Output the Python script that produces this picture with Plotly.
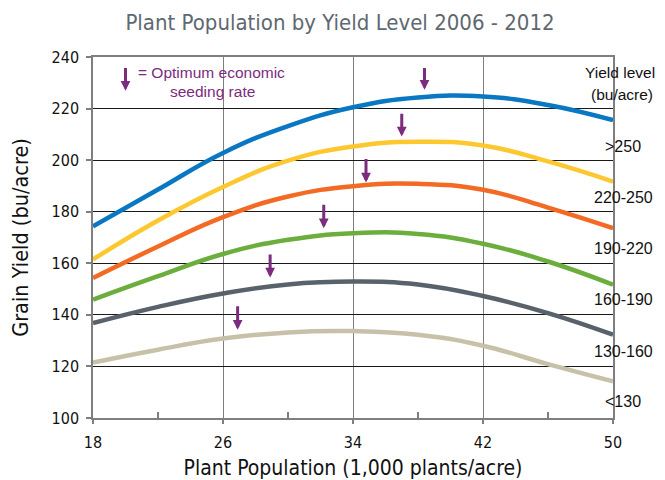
import plotly.graph_objects as go

# ---- data ----
population = [18, 22, 26, 30, 34, 38, 42, 46, 50]
yield_levels = [">250", "220-250", "190-220", "160-190", "130-160", "<130"]
yield_gt250 = [174.3, 188.6, 202.8, 213.2, 220.5, 224.3, 224.7, 221.4, 215.5]
yield_220_250 = [161.5, 176.6, 189.6, 199.8, 205.3, 207.1, 205.7, 199.5, 191.7]
yield_190_220 = [154.3, 166.5, 177.9, 185.9, 189.9, 190.8, 188.5, 181.6, 173.6]
yield_160_190 = [145.9, 155.0, 163.6, 169.1, 171.6, 171.4, 167.6, 160.7, 151.7]
yield_130_160 = [136.8, 143.1, 148.3, 151.8, 152.9, 151.8, 147.3, 140.7, 132.3]
yield_lt130 = [121.5, 126.5, 130.8, 133.2, 133.7, 132.3, 128.0, 120.9, 114.2]
series = [yield_gt250, yield_220_250, yield_190_220, yield_160_190, yield_130_160, yield_lt130]

# optimum economic seeding rate arrows (x, arrow top, arrow tip)
opt_x = [38.4, 37.0, 34.8, 32.2, 28.9, 26.9]
opt_top = [236.3, 218.6, 201.0, 183.3, 164.0, 143.9]
opt_tip = [227.3, 209.2, 191.3, 173.6, 154.5, 134.2]
key_x, key_top, key_tip = 20.0, 236.3, 226.9

x_ticks = [18, 26, 34, 42, 50]
x_minor = [22, 30, 38, 46]
y_ticks = [100, 120, 140, 160, 180, 200, 220, 240]
label_y = [147, 198, 249, 300, 352, 402]  # page pixel rows for right-hand labels

colors = ["#0A77C2", "#FDC82F", "#F26A24", "#6CAE3E", "#59626B", "#C8C1A9"]
purple = "#7C2C7E"

fig = go.Figure()
for vals, name, c in zip(series, yield_levels, colors):
    fig.add_trace(go.Scatter(x=population, y=vals, mode="lines", name=name,
                             line=dict(color=c, width=4.5, shape="spline", smoothing=1.3),
                             showlegend=False, hoverinfo="skip"))

# page geometry (the page body has an 8px margin)
OFF = 8
W, H = 665 - OFF, 480 - OFF
plot_left, plot_right, plot_top, plot_bottom = 93, 613, 57, 418.3  # page pixels
L = plot_left - OFF
T = plot_top - OFF
R = W - (plot_right - OFF)
B = H - (plot_bottom - OFF)
pw, ph = plot_right - plot_left, plot_bottom - plot_top


def px(xp):
    return (xp - plot_left) / pw


def py(yp):
    return (plot_bottom - yp) / ph


ann = []
for xv, yt, yb in zip(opt_x, opt_top, opt_tip):
    ann.append(dict(x=xv, y=yb, ax=xv, ay=yt, xref="x", yref="y", axref="x", ayref="y",
                    showarrow=True, arrowhead=2, arrowsize=0.65, arrowwidth=3,
                    arrowcolor=purple, text=""))
ann.append(dict(x=key_x, y=key_tip, ax=key_x, ay=key_top, xref="x", yref="y", axref="x", ayref="y",
                showarrow=True, arrowhead=2, arrowsize=0.65, arrowwidth=3,
                arrowcolor=purple, text=""))

tf = dict(family="Liberation Sans, Arial, sans-serif", size=15.5, color=purple)
ann.append(dict(x=px(136), y=py(73), xref="paper", yref="paper", text="= Optimum economic",
                showarrow=False, xanchor="left", yanchor="middle", font=tf))
ann.append(dict(x=px(212), y=py(92), xref="paper", yref="paper", text="seeding rate",
                showarrow=False, xanchor="center", yanchor="middle", font=tf))

lf = dict(family="Liberation Sans, Arial, sans-serif", size=16, color="#111111")
lf_small = dict(family="Liberation Sans, Arial, sans-serif", size=15.5, color="#111111")
ann.append(dict(x=px(620), y=py(73), xref="paper", yref="paper", text="Yield level",
                showarrow=False, xanchor="center", yanchor="middle", font=lf_small))
ann.append(dict(x=px(622), y=py(95), xref="paper", yref="paper", text="(bu/acre)",
                showarrow=False, xanchor="center", yanchor="middle", font=lf_small))
for lab, yp in zip(yield_levels, label_y):
    ann.append(dict(x=px(623), y=py(yp), xref="paper", yref="paper", text=lab,
                    showarrow=False, xanchor="center", yanchor="middle", font=lf))

cond = "DejaVu Sans Condensed, DejaVu Sans, sans-serif"
tick_font = dict(family=cond, size=16, color="#111111")

fig.update_layout(
    width=W, height=H,
    margin=dict(l=L, r=R, t=T, b=B, autoexpand=False),
    paper_bgcolor="white", plot_bgcolor="white",
    title=dict(text="Plant Population by Yield Level 2006 - 2012",
               x=(340 - OFF) / W, xanchor="center", y=1 - (22 - OFF) / H, yanchor="middle",
               font=dict(family=cond, size=22, color="#5E6870")),
    xaxis=dict(range=[18, 50], tickvals=x_ticks, ticktext=[str(v) for v in x_ticks],
               showgrid=True, gridcolor="#7F7F7F", gridwidth=1.3,
               showline=True, linecolor="#7F7F7F", linewidth=1.5, mirror=True,
               ticks="outside", ticklen=4, tickcolor="#7F7F7F", tickwidth=1.5,
               ticklabelstandoff=5,
               minor=dict(tickvals=x_minor, ticks="inside", ticklen=6, tickcolor="#7F7F7F",
                          tickwidth=1.5, showgrid=False),
               tickfont=tick_font, zeroline=False, automargin=False,
               title=dict(text="Plant Population (1,000 plants/acre)", standoff=20,
                          font=dict(family=cond, size=21, color="#111111"))),
    yaxis=dict(range=[100, 240], tickvals=y_ticks,
               showgrid=True, gridcolor="#1A1A1A", gridwidth=1.2,
               showline=True, linecolor="#7F7F7F", linewidth=1.5, mirror=True,
               ticks="outside", ticklen=5, tickcolor="#7F7F7F", tickwidth=1.5,
               ticklabelstandoff=4,
               tickfont=tick_font, zeroline=False, automargin=False,
               title=dict(text="Grain Yield (bu/acre)", standoff=22,
                          font=dict(family=cond, size=21.5, color="#111111"))),
    annotations=ann,
)

fig.write_html("out.html")
